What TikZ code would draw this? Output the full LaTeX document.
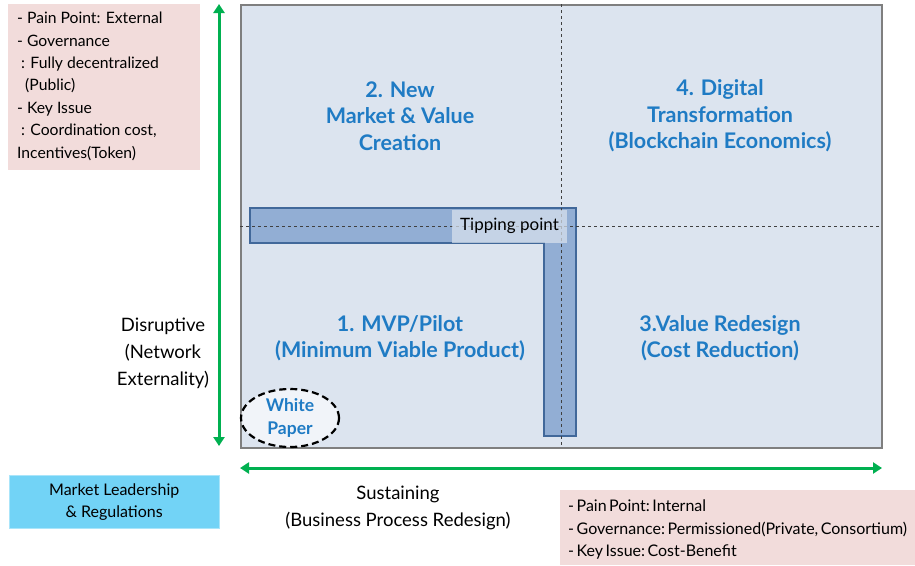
\documentclass[tikz,border=0pt]{standalone}
\usepackage{fontspec}
\setmainfont{Lato}
\usetikzlibrary{arrows.meta,shapes.geometric}
\definecolor{quadfill}{HTML}{DCE4EF}
\definecolor{quadline}{HTML}{7F7F7F}
\definecolor{barfill}{HTML}{92AED4}
\definecolor{barline}{HTML}{41689A}
\definecolor{pinkbox}{HTML}{F2DCDB}
\definecolor{cyanbox}{HTML}{72D3F6}
\definecolor{axisgreen}{HTML}{00B050}
\definecolor{quadtext}{HTML}{1F7BC4}
\newcommand{\nsp}{\hspace{2.5pt}}
\tikzset{
  infotext/.style={font=\fontsize{15.7}{22.4}\selectfont, align=left, anchor=north west, inner sep=0pt},
  quadlabel/.style={font=\bfseries\fontsize{21.5}{26.5}\selectfont, text=quadtext, align=center},
  axislabel/.style={font=\fontsize{18.5}{27}\selectfont, align=center},
  axisarrow/.style={draw=axisgreen, line width=3pt, {Triangle[length=9pt,width=11pt]}-{Triangle[length=9pt,width=11pt]}},
  divider/.style={draw=black!75, dashed, line width=0.8pt}
}
\begin{document}
\begin{tikzpicture}[x=1pt,y=-1pt]
\useasboundingbox (0,0) rectangle (915,565);

% quadrant field
\node[draw=quadline, line width=1.5pt, fill=quadfill, minimum width=641pt, minimum height=443pt, anchor=north west, inner sep=0pt] (field) at (240,4) {};

% L-shaped path through the quadrants
\draw[fill=barfill, draw=barline, line width=2pt] (250,208) -- (576,208) -- (576,436) -- (544,436) -- (544,243) -- (250,243) -- cycle;

% quadrant dividers
\coordinate (vtop) at (561,4);
\coordinate (vbot) at (561,447);
\coordinate (hleft) at (240,226);
\coordinate (hright) at (881,226);
\draw[divider] (vtop) -- (vbot);
\draw[divider] (hleft) -- (hright);

% tipping point marker
\node[fill=quadfill, fill opacity=0.7, text opacity=1, minimum width=115pt, minimum height=33pt, inner sep=0pt, font=\fontsize{17}{19}\selectfont] (tip) at (509.5,226) {Tipping point};

% quadrant labels
\node[quadlabel] (q2) at (400,116) {2. New\\Market \& Value\\Creation};
\node[quadlabel] (q4) at (720,116) {4. Digital\\Transformation\\(Blockchain Economics)};
\node[quadlabel] (q1) at (400,338) {1. MVP/Pilot\\(Minimum Viable Product)};
\node[quadlabel] (q3) at (720,338) {3.Value Redesign\\(Cost Reduction)};

% white paper
\node[ellipse, draw=black, dashed, dash pattern=on 7pt off 4pt, line width=2.2pt, fill=white!60!quadfill, minimum width=98pt, minimum height=58pt, inner sep=0pt, font=\bfseries\fontsize{17.5}{23}\selectfont, text=quadtext, align=center] (wp) at (290,418) {White\\Paper};

% axes
\coordinate (yb) at (219,446);
\coordinate (yt) at (219,4);
\draw[axisarrow] (yb) -- (yt);
\coordinate (xl) at (240,468);
\coordinate (xr) at (882,468);
\draw[axisarrow] (xl) -- (xr);

\node[axislabel] (ylab) at (163,353) {Disruptive\\(Network\\Externality)};
\node[axislabel] (xlab) at (398,508) {Sustaining\\(Business Process Redesign)};

% side notes
\node[fill=pinkbox, minimum width=192pt, minimum height=166pt, anchor=north west, inner sep=0pt] (note1) at (8,4) {};
\node[infotext] (note1txt) at (17,12) {- Pain Point: External\\- Governance\\\ : Fully decentralized\\\ \ (Public)\\- Key Issue\\\ : Coordination cost,\\Incentives(Token)};

\node[fill=cyanbox, draw=cyanbox!60!white, minimum width=210pt, minimum height=53pt, anchor=north west, inner sep=0pt, font=\fontsize{16}{22}\selectfont, align=center] (lead) at (9,475) {Market Leadership\\\& Regulations};

\node[fill=pinkbox, minimum width=355pt, minimum height=75pt, anchor=north west, inner sep=0pt] (note2) at (560,490) {};
\node[infotext, font=\fontsize{16}{22.5}\selectfont] (note2txt) at (568,500) {-\nsp Pain\nsp Point:\nsp Internal\\-\nsp Governance:\nsp Permissioned(Private,\nsp Consortium)\\-\nsp Key\nsp Issue:\nsp Cost-Benefit};
\end{tikzpicture}
\end{document}
